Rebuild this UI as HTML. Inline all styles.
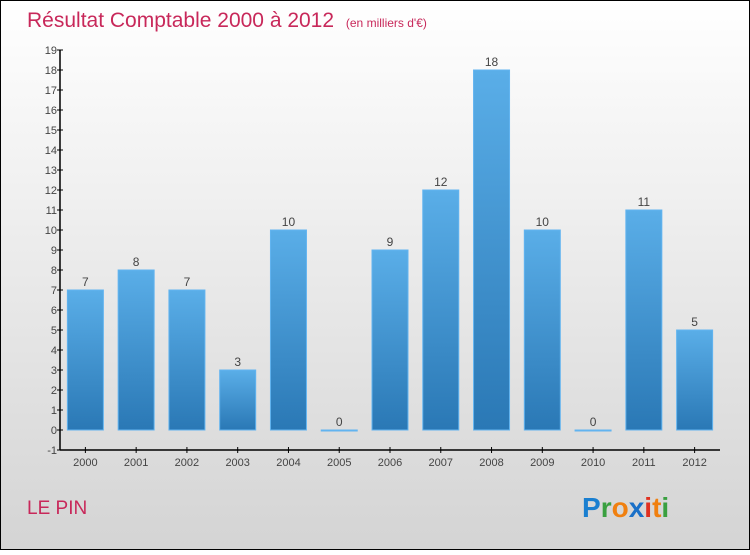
<!DOCTYPE html>
<html><head><meta charset="utf-8"><style>
body{margin:0;width:750px;height:550px;overflow:hidden;font-family:"Liberation Sans",sans-serif}
</style></head><body>
<svg id="c" width="750" height="550" xmlns="http://www.w3.org/2000/svg">
<defs>
<linearGradient id="bg" x1="0" y1="0" x2="0" y2="1"><stop offset="0" stop-color="#ffffff"/><stop offset="1" stop-color="#d4d4d4"/></linearGradient>
<linearGradient id="bar" x1="0" y1="0" x2="0" y2="1"><stop offset="0" stop-color="#5aaee8"/><stop offset="1" stop-color="#2a78b5"/></linearGradient>
</defs>
<rect x="0.5" y="0.5" width="749" height="549" fill="url(#bg)" stroke="#000"/>
<text x="27" y="27" font-size="21" fill="#c8285a">Résultat Comptable 2000 à 2012 <tspan font-size="12" dx="6">(en milliers d'€)</tspan></text>
<text x="27" y="514" font-size="19" fill="#c8285a">LE PIN</text>
<g font-size="28" font-weight="bold" font-family="Liberation Sans, sans-serif">
<text x="582" y="517"><tspan fill="#1a7fd0">P</tspan><tspan fill="#3aa040">r</tspan><tspan fill="#f08010">o</tspan><tspan fill="#1a70c8">x</tspan><tspan fill="#e03020">i</tspan><tspan fill="#f08010">t</tspan><tspan fill="#3aa040">i</tspan></text>
</g>
<g id="plot"></g>
</svg>
<script>
const categories=["2000","2001","2002","2003","2004","2005","2006","2007","2008","2009","2010","2011","2012"];
const values=[7,8,7,3,10,0,9,12,18,10,0,11,5];
const yTicks=[-1,0,1,2,3,4,5,6,7,8,9,10,11,12,13,14,15,16,17,18,19];
const NS="http://www.w3.org/2000/svg";
const g=document.getElementById('plot');
const x0=60,x1=720,yMin=-1,yMax=19,py0=450,py1=50;
const band=(x1-x0)/categories.length;
const y=v=>py0-(v-yMin)/(yMax-yMin)*(py0-py1);
const xc=i=>x0+band*(i+0.5);
function mk(t,a){const e=document.createElementNS(NS,t);for(const k in a)e.setAttribute(k,a[k]);g.appendChild(e);return e;}
let e=mk('line',{x1:x0,y1:py1,x2:x0,y2:py0,stroke:'#000','stroke-width':1.5});


e=mk('line',{x1:x0,y1:py0,x2:x1,y2:py0,stroke:'#000','stroke-width':1.5});


yTicks.forEach(t=>{
 const l=mk('line',{x1:x0-3,y1:y(t),x2:x0+3,y2:y(t),stroke:'#000'});
 
 
 const tx=mk('text',{x:x0-3,y:y(t)+4,'font-size':11,fill:'#444','text-anchor':'end'});
 tx.textContent=t;
 
 
});
categories.forEach((c,i)=>{
 const v=values[i],cx=xc(i),w=36;
 const top=y(Math.max(v,0)),bot=y(Math.min(v,0));
 const r=mk('rect',{x:cx-w/2,y:top,width:w,height:Math.max(bot-top,1),fill:'url(#bar)',stroke:'#62b4f0','stroke-width':1});
 
 
 const vl=mk('text',{x:cx,y:top-4,'font-size':12,fill:'#444','text-anchor':'middle'});
 vl.textContent=v;
 
 
 const tk=mk('line',{x1:cx,y1:py0-3,x2:cx,y2:py0+3,stroke:'#000'});
 
 
 const xl=mk('text',{x:cx,y:py0+16,'font-size':11,fill:'#444','text-anchor':'middle'});
 xl.textContent=c;
 
 
});
</script>
</body></html>
